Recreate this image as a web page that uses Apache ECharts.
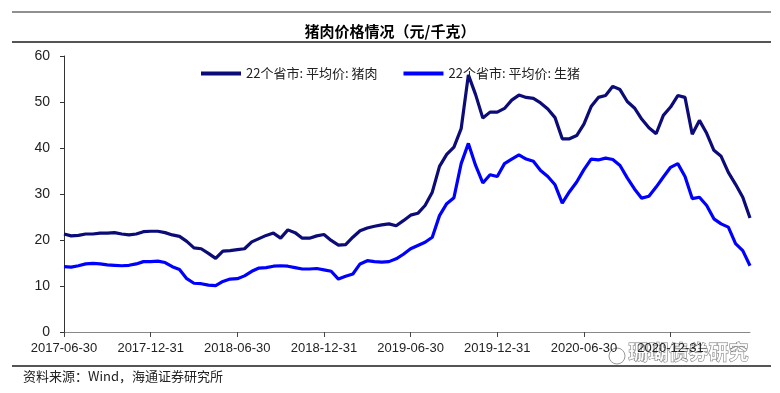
<!DOCTYPE html>
<html>
<head>
<meta charset="utf-8">
<script src="https://cdn.jsdelivr.net/npm/echarts@6/dist/echarts.min.js"></script>
<style>
html,body{margin:0;padding:0;background:#fff;}
#chart{width:780px;height:393px;}
</style>
</head>
<body>
<div id="chart"></div>
<script>
const titleText = '猪肉价格情况（元/千克）';
const sourceText = '资料来源：Wind，海通证券研究所';
const seriesNames = ['22个省市: 平均价: 猪肉', '22个省市: 平均价: 生猪'];
const tickLabels = ['2017-06-30','2017-12-31','2018-06-30','2018-12-31','2019-06-30','2019-12-31','2020-06-30','2020-12-31'];

const categories = [
'2017-06-30','2017-07-15','2017-07-31','2017-08-15','2017-08-31','2017-09-15','2017-09-30','2017-10-15','2017-10-31','2017-11-15','2017-11-30','2017-12-15','2017-12-31',
'2018-01-15','2018-01-31','2018-02-15','2018-02-28','2018-03-15','2018-03-31','2018-04-15','2018-04-30','2018-05-15','2018-05-31','2018-06-15','2018-06-30',
'2018-07-15','2018-07-31','2018-08-15','2018-08-31','2018-09-15','2018-09-30','2018-10-15','2018-10-31','2018-11-15','2018-11-30','2018-12-15','2018-12-31',
'2019-01-15','2019-01-31','2019-02-15','2019-02-28','2019-03-15','2019-03-31','2019-04-15','2019-04-30','2019-05-15','2019-05-31','2019-06-15','2019-06-30',
'2019-07-15','2019-07-31','2019-08-15','2019-08-31','2019-09-15','2019-09-30','2019-10-15','2019-10-31','2019-11-15','2019-11-30','2019-12-15','2019-12-31',
'2020-01-15','2020-01-31','2020-02-15','2020-02-29','2020-03-15','2020-03-31','2020-04-15','2020-04-30','2020-05-15','2020-05-31','2020-06-15','2020-06-30',
'2020-07-15','2020-07-31','2020-08-15','2020-08-31','2020-09-15','2020-09-30','2020-10-15','2020-10-31','2020-11-15','2020-11-30','2020-12-15','2020-12-31',
'2021-01-15','2021-01-31','2021-02-15','2021-02-28','2021-03-15','2021-03-31','2021-04-15','2021-04-30','2021-05-15','2021-05-31','2021-06-15'
];

const porkPrice = [
21.3,20.9,21.0,21.3,21.3,21.5,21.5,21.6,21.3,21.1,21.3,21.8,21.9,
21.9,21.6,21.1,20.8,19.7,18.3,18.1,17.1,16.0,17.6,17.7,17.9,
18.1,19.6,20.3,21.0,21.5,20.4,22.2,21.6,20.4,20.4,20.9,21.2,
19.9,18.9,19.0,20.6,22.0,22.6,23.0,23.3,23.5,23.1,24.2,25.4,
25.8,27.5,30.4,36.0,38.6,40.2,44.2,55.9,51.6,46.5,47.8,47.8,
48.6,50.4,51.5,51.0,50.8,49.8,48.5,46.6,42.0,42.0,42.7,45.2,
49.0,51.0,51.4,53.4,52.7,50.1,48.7,46.3,44.4,43.1,47.1,48.9,
51.4,51.0,43.0,46.0,43.2,39.5,38.2,34.7,32.1,29.3,24.8
];

const hogPrice = [
14.2,14.1,14.4,14.8,14.9,14.8,14.6,14.5,14.4,14.5,14.8,15.3,15.3,
15.4,15.1,14.2,13.6,11.6,10.6,10.5,10.2,10.1,11.0,11.5,11.6,
12.2,13.2,13.9,14.0,14.3,14.4,14.3,14.0,13.7,13.7,13.8,13.5,
13.2,11.5,12.1,12.6,14.8,15.5,15.3,15.2,15.3,15.9,16.9,18.1,
18.8,19.5,20.6,25.3,27.9,29.2,36.6,41.0,36.2,32.4,34.2,33.8,
36.6,37.6,38.5,37.6,37.1,35.1,33.8,32.0,28.0,30.5,32.6,35.3,
37.6,37.4,37.8,37.5,36.2,33.5,31.1,29.1,29.5,31.5,33.7,35.8,
36.6,33.8,29.0,29.3,27.5,24.6,23.5,22.8,19.2,17.7,14.4
];

const chart = echarts.init(document.getElementById('chart'));
const cjk = '"Noto Sans CJK SC", "Noto Sans", sans-serif';
const latin = '"Liberation Sans", Arial, sans-serif';

chart.setOption({
  animation: false,
  backgroundColor: '#fff',
  title: {
    text: titleText,
    left: 'center',
    top: 19,
    textStyle: { fontFamily: cjk, fontSize: 15, fontWeight: 'bold', color: '#000' }
  },
  legend: {
    left: 196,
    top: 62,
    itemGap: 26,
    itemWidth: 40,
    itemHeight: 4,
    icon: 'rect',
    textStyle: { fontFamily: cjk, fontSize: 13, color: '#222' },
    data: seriesNames
  },
  grid: { left: 64, right: 30, top: 56, bottom: 61, containLabel: false },
  xAxis: {
    type: 'category',
    data: categories,
    boundaryGap: false,
    axisLine: { lineStyle: { color: '#888', width: 1 } },
    axisTick: { show: true, interval: 11, length: 5, lineStyle: { color: '#444' } },
    axisLabel: {
      interval: 11,
      margin: 10,
      fontFamily: latin,
      fontSize: 13,
      color: '#222',
      formatter: v => tickLabels.indexOf(v) >= 0 ? v : ''
    },
    splitLine: { show: false }
  },
  yAxis: {
    type: 'value',
    min: 0,
    max: 60,
    interval: 10,
    axisLine: { show: true, lineStyle: { color: '#333', width: 1 } },
    axisTick: { show: true, length: 4, lineStyle: { color: '#333' } },
    axisLabel: { fontFamily: latin, fontSize: 14, color: '#222', margin: 14 },
    splitLine: { show: false }
  },
  series: [
    {
      name: seriesNames[0],
      type: 'line',
      data: porkPrice,
      showSymbol: false,
      lineStyle: { color: '#0c0c78', width: 3.2 },
      itemStyle: { color: '#0c0c78' }
    },
    {
      name: seriesNames[1],
      type: 'line',
      data: hogPrice,
      showSymbol: false,
      lineStyle: { color: '#0000ff', width: 3.2 },
      itemStyle: { color: '#0000ff' }
    }
  ],
  graphic: [
    { type: 'line', shape: { x1: 12, y1: 12, x2: 771, y2: 12 }, style: { stroke: '#222', lineWidth: 1.2 } },
    { type: 'line', shape: { x1: 12, y1: 42, x2: 771, y2: 42 }, style: { stroke: '#555', lineWidth: 2 } },
    { type: 'line', shape: { x1: 12, y1: 366, x2: 771, y2: 366 }, style: { stroke: '#555', lineWidth: 2 } },
    { type: 'text', left: 23, top: 370, style: { text: sourceText, font: '13px ' + cjk, fill: '#222' } },
    { type: 'text', left: 628, top: 342, style: { text: '珊瑚债券研究', font: 'bold 20px ' + cjk, fill: 'rgba(255,255,255,0.85)', stroke: '#777', lineWidth: 1 } },
    { type: 'circle', shape: { cx: 617, cy: 356, r: 8 }, style: { fill: 'rgba(255,255,255,0.6)', stroke: '#999', lineWidth: 1 } }
  ]
});
</script>
</body>
</html>
